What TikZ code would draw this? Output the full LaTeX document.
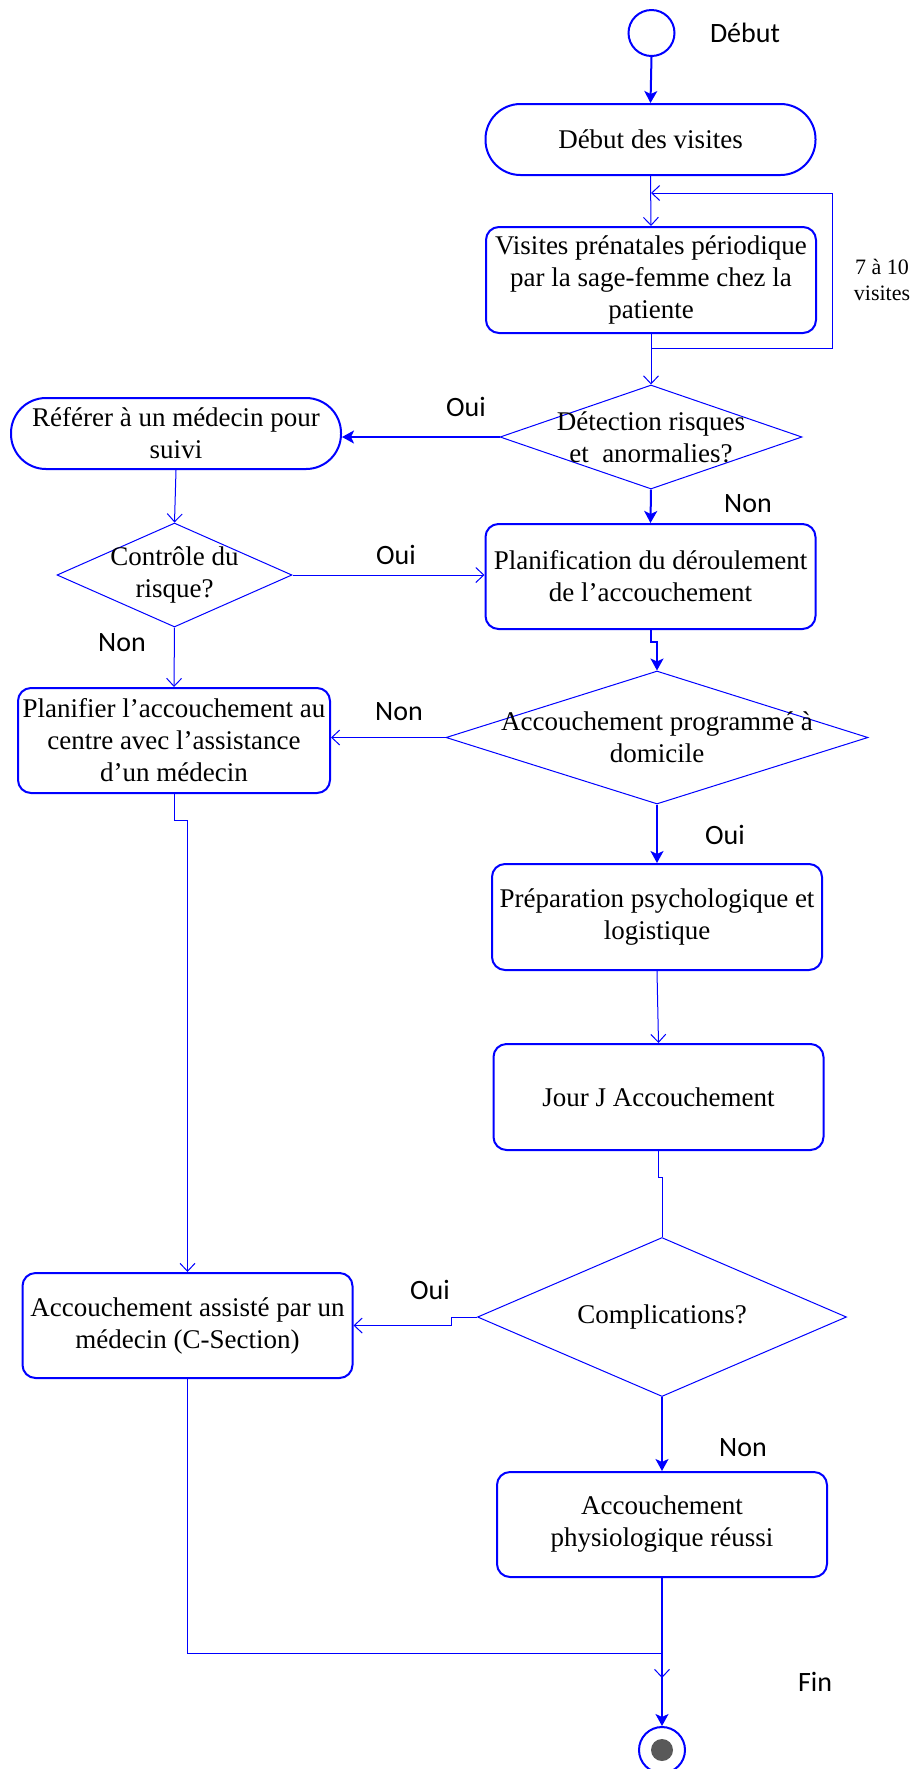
\documentclass[tikz,border=0pt]{standalone}
\usepackage{fontspec}
\setmainfont{Liberation Serif}
\newfontfamily\etiqfont{Carlito}
\usetikzlibrary{positioning, arrows.meta, shapes.geometric}

\begin{document}
\begin{tikzpicture}[
    x=0.5pt, y=-0.5pt,
    font=\fontsize{13.5pt}{16pt}\selectfont,
    box/.style={draw=blue, line width=1pt, rounded corners=6.5pt, align=center, inner sep=0pt, minimum width=165pt, minimum height=53pt},
    stade/.style={box, rounded corners=17.5pt, minimum height=35.5pt},
    decision/.style={diamond, draw=blue, line width=0.5pt, inner sep=0pt},
    txt/.style={align=center, inner sep=0pt},
    etiq/.style={font=\etiqfont\fontsize{14pt}{16pt}\selectfont},
    etat/.style={circle, draw=blue, line width=1pt, minimum size=23pt, inner sep=0pt},
    flow/.style={draw=blue, line width=1pt, -{Stealth[length=6pt, width=6.5pt, inset=1.5pt]}},
    lien/.style={draw=blue, line width=0.5pt, -{Straight Barb[length=4pt, width=7.5pt]}},
    trait/.style={draw=blue, line width=0.5pt}
  ]
  \useasboundingbox (0,0) rectangle (913,1769);

  % Debut et boucle des visites
  \node[etat] (debut) at (651.5,33) {};
  \node[etiq] (lbl-debut) at (745,33) {Début};
  \node[stade] (debvis) at (650.5,139.5) {Début des visites};
  \node[box] (visites) at (651,280) {Visites prénatales périodique\\par la sage-femme chez la\\patiente};
  \node[align=center, font=\fontsize{11pt}{13pt}\selectfont] (nbvis) at (882,280) {7 à 10\\visites};
  \coordinate (boucle-b) at (651,348);
  \coordinate (boucle-h) at (832,193);

  \draw[flow] (debut.south) -- (debvis.north);
  \draw[lien] (debvis.south) -- (visites.north);
  \draw[lien] (boucle-b) -| (boucle-h) -- (boucle-h -| visites.north);

  % Detection des risques
  \node[decision, minimum width=151pt, minimum height=52pt, label={[txt]center:Détection risques\\et~~anormalies?}] (detect) at (651,437) {};
  \node[stade] (referer) at (176,433.5) {Référer à un médecin pour\\suivi};
  \node[box, minimum height=52.5pt] (planif) at (650.5,576.5) {Planification du déroulement\\de l’accouchement};
  \node[decision, minimum width=117.5pt, minimum height=52pt, label={[txt]center:Contrôle du\\risque?}] (controle) at (174.5,575) {};
  \node[box, minimum width=156pt, minimum height=52.5pt] (planifier) at (174,740.5) {Planifier l’accouchement au\\centre avec l’assistance\\d’un médecin};

  \draw[lien] (visites.south) -- (detect.north);
  \draw[flow] (detect.west) -- (detect.west -| referer.east);
  \node[etiq] (oui1) at (466,407) {Oui};
  \draw[flow] (detect.south) -- (planif.north);
  \node[etiq] (non1) at (748,504) {Non};
  \draw[lien] (referer.south) -- (controle.north);
  \draw[lien] (controle.east) -- (controle.east -| planif.west);
  \node[etiq] (oui2) at (396,555) {Oui};
  \draw[lien] (controle.south) -- (planifier.north);
  \node[etiq] (non2) at (122,643) {Non};

  % Accouchement a domicile
  \node[decision, minimum width=211pt, minimum height=66.5pt, label={[txt]center:Accouchement programmé à\\domicile}] (prog) at (657,737.5) {};
  \node[box] (prep) at (657,917) {Préparation psychologique et\\logistique};
  \node[box] (jourj) at (658.5,1097) {Jour J Accouchement};
  \node[decision, minimum width=184.5pt, minimum height=79.5pt, label={[txt]center:Complications?}] (compl) at (662,1317) {};
  \node[box, minimum height=52.5pt] (assiste) at (187.5,1325.5) {Accouchement assisté par un\\médecin (C-Section)};
  \node[box, minimum height=52.5pt] (physio) at (662,1524.5) {Accouchement\\physiologique réussi};

  \draw[flow] (planif.south) -- ++(0,12) -| (prog.north);
  \draw[lien] (prog.west) -- (prog.west -| planifier.east);
  \node[etiq] (non3) at (399,712) {Non};
  \draw[flow] (prog.south) -- (prep.north);
  \node[etiq] (oui3) at (725,835) {Oui};
  \draw[lien] (prep.south) -- (jourj.north);
  \draw[trait] (jourj.south) -- ++(0,26) -| (compl.north);
  \draw[lien] (compl.west) -- ++(-26,0) |- (assiste.east);
  \node[etiq] (oui4) at (430,1290) {Oui};
  \draw[lien] (planifier.south) -- ++(0,26) -| (assiste.north);
  \draw[flow] (compl.south) -- (physio.north);
  \node[etiq] (non4) at (743,1448) {Non};

  % Fin
  \node[etat] (fin) at (662,1750) {};
  \node[circle, fill=black!65, minimum size=11pt, inner sep=0pt] (fin-c) at (fin) {};
  \node[etiq] (lbl-fin) at (815,1682) {Fin};
  \coordinate (jonction) at (662,1678);

  \draw[lien] (assiste.south) -- ++(0,274) -| (jonction);
  \draw[flow] (physio.south) -- (fin.north);
\end{tikzpicture}
\end{document}
